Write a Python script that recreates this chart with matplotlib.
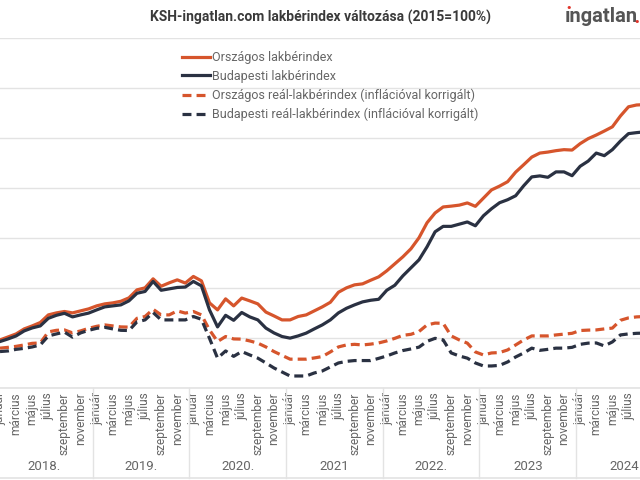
import matplotlib
matplotlib.use("Agg")
import matplotlib.pyplot as plt
import matplotlib.transforms as mtransforms

# havi adatok, 2018 január = 0
orszagos = [124.0, 125.5, 127.0, 129.5, 131.0, 132.7, 136.5, 137.5, 138.2, 137.5, 138.5, 139.5,
            141.0, 142.0, 142.5, 143.3, 145.0, 149.0, 150.0, 154.5, 150.8, 152.5, 154.0, 152.4,
            155.7, 153.5, 142.5, 139.0, 144.5, 141.0, 144.9, 143.5, 142.0, 137.9, 136.0, 134.0,
            134.0, 135.7, 136.5, 138.5, 140.5, 142.8, 147.8, 150.0, 151.5, 152.0, 153.8, 155.5,
            158.5, 162.0, 165.5, 169.5, 175.0, 182.5, 187.4, 190.4, 190.8, 191.3, 192.4, 190.7,
            194.8, 198.9, 200.8, 203.0, 207.8, 211.5, 215.3, 217.3, 217.8, 218.5, 219.0, 218.8,
            222.0, 224.5, 226.3, 228.3, 230.4, 235.8, 240.4, 241.3, 241.5]
budapest = [123.2, 124.5, 126.0, 128.5, 130.0, 131.0, 134.8, 136.3, 137.3, 135.5, 136.5, 137.4,
            139.0, 140.5, 141.0, 141.5, 143.5, 147.3, 148.2, 153.2, 148.8, 149.5, 150.2, 150.4,
            153.2, 151.0, 139.0, 130.5, 136.3, 133.8, 137.7, 135.5, 134.0, 129.9, 127.5, 125.7,
            124.9, 126.0, 127.4, 129.5, 131.5, 134.0, 137.5, 139.8, 141.5, 143.0, 143.8, 144.3,
            148.8, 151.3, 156.0, 160.0, 164.0, 170.5, 178.0, 180.7, 180.7, 181.8, 182.9, 181.0,
            186.0, 189.5, 192.5, 194.0, 196.0, 201.0, 205.4, 205.9, 205.2, 207.9, 207.9, 206.0,
            210.7, 213.3, 217.3, 216.0, 219.0, 223.3, 227.0, 227.5, 227.9]
orszagos_real = [119.9, 120.3, 120.8, 121.5, 122.3, 122.5, 128.0, 128.8, 129.0, 127.5, 128.5, 129.8,
                 130.8, 131.5, 131.0, 130.5, 130.4, 134.8, 135.7, 139.3, 136.5, 136.5, 138.5, 137.4,
                 138.2, 136.5, 129.0, 123.2, 125.7, 124.5, 124.4, 123.5, 122.4, 120.5, 118.2, 116.3,
                 114.4, 114.4, 114.4, 115.0, 115.7, 118.0, 120.5, 121.5, 121.8, 121.5, 121.9, 122.5,
                 123.5, 124.8, 126.3, 126.8, 128.2, 131.5, 132.4, 132.3, 126.0, 124.0, 122.4, 118.0,
                 116.5, 117.5, 117.7, 119.0, 121.5, 124.0, 126.0, 126.0, 126.0, 126.5, 126.9, 127.3,
                 128.7, 128.9, 129.0, 129.5, 129.9, 133.8, 135.0, 135.5, 135.7]
budapest_real = [118.2, 118.5, 119.3, 119.8, 120.5, 121.5, 126.0, 127.0, 127.9, 125.4, 127.5, 128.8,
                 129.8, 130.3, 129.5, 128.8, 128.7, 133.0, 134.0, 137.7, 134.0, 134.0, 134.0, 134.0,
                 135.7, 134.3, 124.8, 114.9, 118.5, 115.8, 118.2, 116.5, 114.9, 112.5, 110.0, 108.0,
                 106.0, 106.0, 106.0, 107.5, 108.5, 110.5, 112.5, 113.3, 113.7, 113.7, 113.7, 114.8,
                 116.0, 117.5, 118.7, 119.5, 120.4, 123.3, 124.8, 124.0, 117.5, 116.0, 114.9, 112.5,
                 111.0, 111.0, 111.3, 113.0, 115.5, 117.5, 119.9, 118.8, 119.3, 119.9, 119.9, 120.3,
                 121.8, 122.4, 122.5, 121.0, 123.0, 126.5, 127.0, 127.3, 127.4]

honapok = ["január", "március", "május", "július", "szeptember", "november"]
evek = ["2018.", "2019.", "2020.", "2021", "2022.", "2023", "2024"]

narancs = "#d6552c"
sotet = "#2a3142"
racs = "#e3e3e3"
szoveg = "#666666"

fig = plt.figure(figsize=(6.4, 4.8), dpi=100)
ax = fig.add_axes([0, 92 / 480, 1, 350.5 / 480])

x = list(range(len(orszagos)))
ax.plot(x, orszagos, color=narancs, lw=2.3, label="Országos lakbérindex")
ax.plot(x, budapest, color=sotet, lw=2.3, label="Budapesti lakbérindex")
ax.plot(x, orszagos_real, color=narancs, lw=2.3, dashes=(2.8, 1.6),
        label="Országos reál-lakbérindex (inflációval korrigált)")
ax.plot(x, budapest_real, color=sotet, lw=2.3, dashes=(2.8, 1.6),
        label="Budapesti reál-lakbérindex (inflációval korrigált)")

ax.set_xlim(0.124, 79.43)
ax.set_ylim(100, 275)
ax.set_yticks(range(100, 276, 25))
ax.set_yticklabels([])
ax.grid(axis="y", color=racs, lw=1)
ax.set_axisbelow(True)
for s in ax.spines.values():
    s.set_visible(False)
ax.tick_params(axis="y", length=0)

# honap feliratok (csak ami latszik)
pos = []
lab = []
for i in range(len(evek)):
    for j, h in enumerate(honapok):
        m = i * 12 + j * 2
        if m <= 79:
            pos.append(m)
            lab.append(h)
ax.set_xticks(pos)
ax.set_xticklabels(lab, rotation=90, fontsize=8.6, color=szoveg, family="Roboto")
ax.tick_params(axis="x", length=0, pad=3)

# ev felirat es elvalasztok
trans = mtransforms.blended_transform_factory(ax.transData, ax.transAxes)
for i, ev in enumerate(evek):
    ax.text(i * 12 + 5.5, -0.225, ev, transform=trans, ha="center", va="center",
            fontsize=9.5, color=szoveg, family="Roboto")
    if i > 0:
        ax.plot([i * 12 - 0.5, i * 12 - 0.5], [0, -0.257], transform=trans,
                color=racs, lw=1, clip_on=False)
ax.plot([-5, 90], [0, 0], transform=trans, color=racs, lw=1.2, clip_on=False)
ax.plot([-5, 90], [-0.257, -0.257], transform=trans, color=racs, lw=1.2, clip_on=False)

fig.text(0.5, 1 - 17 / 480, "KSH-ingatlan.com lakbérindex változása (2015=100%)",
         ha="center", va="center", fontsize=10, fontweight="bold", color="#3a3a3a",
         family="Roboto")

# logo
fig.text(565 / 640, 1 - 17 / 480, "ıngatlan", ha="left", va="center", fontsize=14.5,
         fontweight="bold", color="#555555", family="Roboto")
fig.text(569 / 640, 1 - 8 / 480, "•", ha="center", va="center", fontsize=8,
         color="#e0352b", family="DejaVu Sans")
fig.text(637 / 640, 1 - 22 / 480, "•", ha="center", va="center", fontsize=8,
         color="#e0352b", family="DejaVu Sans")

fig.legend(loc="upper left", bbox_to_anchor=(182 / 640, 1 - 51 / 480), frameon=False,
           borderpad=0, borderaxespad=0, handlelength=2.25, handletextpad=0.12,
           labelspacing=0.46, prop={"family": "Roboto", "size": 9}, labelcolor=szoveg)

fig.savefig("out.png", dpi=100)
